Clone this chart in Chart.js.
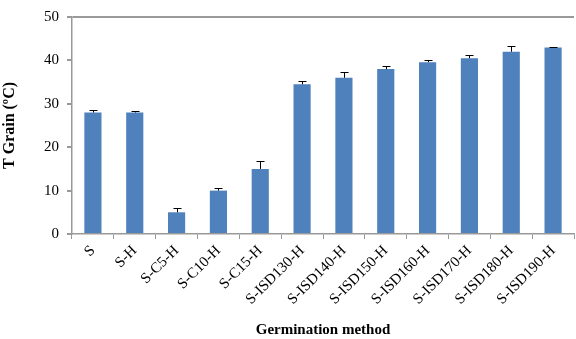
<!DOCTYPE html>
<html><head><meta charset="utf-8">
<script src="https://cdn.jsdelivr.net/npm/chart.js@4/dist/chart.umd.min.js"></script>
<style>html,body{margin:0;padding:0;background:#fff}#w{width:576px;height:339px}</style>
</head><body><div id="w"><canvas id="c"></canvas></div>
<script>
const categories = ['S','S-H','S-C5-H','S-C10-H','S-C15-H','S-ISD130-H','S-ISD140-H','S-ISD150-H','S-ISD160-H','S-ISD170-H','S-ISD180-H','S-ISD190-H'];
const values = [28, 28, 5, 10, 15, 34.5, 36, 38, 39.6, 40.5, 42, 43];
const errors = [0.5, 0.4, 0.9, 0.6, 1.8, 0.8, 1.4, 0.6, 0.5, 0.7, 1.3, 0.1];
const yTicks = [0, 10, 20, 30, 40, 50];

const errPlugin = {
  id: 'err',
  afterDatasetsDraw(chart) {
    const ctx = chart.ctx, meta = chart.getDatasetMeta(0), y = chart.scales.y;
    ctx.save();
    ctx.strokeStyle = '#000'; ctx.lineWidth = 1;
    meta.data.forEach((bar, i) => {
      const x = Math.round(bar.x) + 0.5;
      const y0 = y.getPixelForValue(values[i]);
      const y1 = Math.round(y.getPixelForValue(values[i] + errors[i])) + 0.5;
      ctx.beginPath();
      ctx.moveTo(x, y0); ctx.lineTo(x, y1);
      ctx.moveTo(x - 4, y1); ctx.lineTo(x + 4, y1);
      ctx.stroke();
    });
    ctx.restore();
  }
};

new Chart(document.getElementById('c'), {
  type: 'bar',
  data: { labels: categories, datasets: [{ data: values, backgroundColor: '#4F81BD', categoryPercentage: 1, barPercentage: 0.41 }] },
  options: {
    responsive: true, maintainAspectRatio: false, animation: false,
    layout: { padding: { left: 0, right: 2, top: 14, bottom: 0 } },
    plugins: { legend: { display: false }, tooltip: { enabled: false } },
    scales: {
      x: {
        offset: true,
        grid: { offset: true, drawOnChartArea: false, drawTicks: true, tickLength: 5, tickColor: '#999' },
        border: { color: '#999', width: 1.5 },
        ticks: { minRotation: 45, maxRotation: 45, color: '#000', padding: 3, font: { family: 'Liberation Serif', size: 15 } },
        title: { display: true, text: 'Germination method', color: '#000', padding: { top: 10, bottom: 0 }, font: { family: 'Liberation Serif', size: 15, weight: 'bold' } },
        afterFit(s) { s.height = 105; }
      },
      y: {
        min: 0, max: 50,
        afterBuildTicks(s) { s.ticks = yTicks.map(v => ({ value: v })); },
        grid: { color: c => c.tick && c.tick.value === 50 ? '#9a9a9a' : 'rgba(0,0,0,0)', lineWidth: 2, tickColor: '#999', tickLength: 5, drawTicks: true },
        border: { color: '#999', width: 1.5 },
        ticks: { color: '#000', padding: 8, font: { family: 'Liberation Serif', size: 15 } },
        title: { display: true, text: 'T Grain (ºC)', color: '#000', padding: { top: 0, bottom: 2 }, font: { family: 'Liberation Serif', size: 16, weight: 'bold' } },
        afterFit(s) { s.width = 72; }
      }
    }
  },
  plugins: [errPlugin]
});
</script></body></html>
